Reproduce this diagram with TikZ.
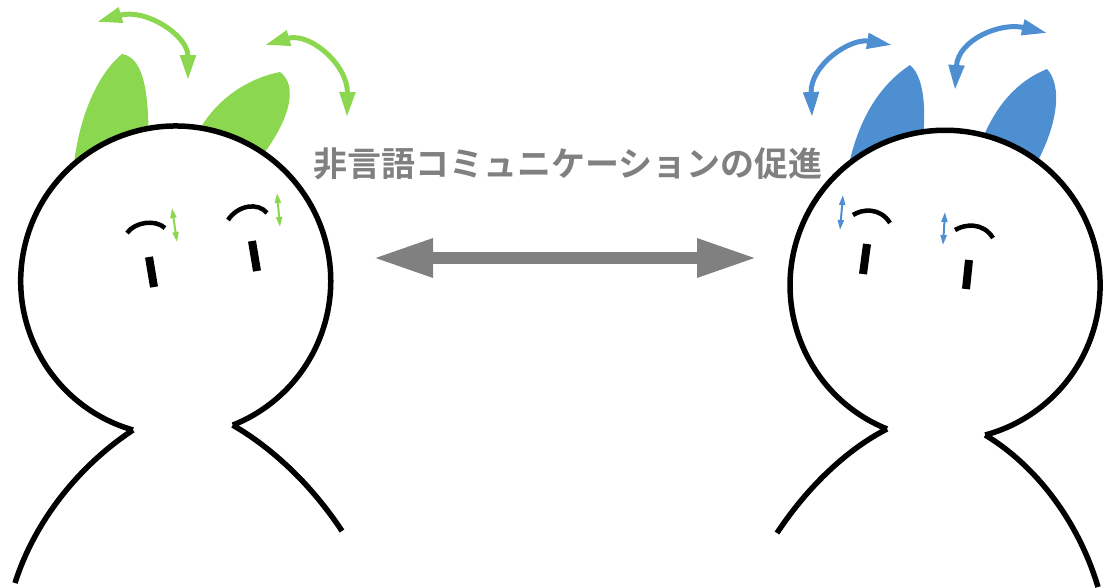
\documentclass[tikz,border=0pt]{standalone}
\usepackage{fontspec}
\newfontfamily\cjkbold[BoldFont={Noto Sans CJK JP Bold}]{Noto Sans CJK JP}
\usetikzlibrary{arrows.meta}
\definecolor{eargreen}{RGB}{140,215,80}
\definecolor{earblue}{RGB}{78,143,210}
\definecolor{labelgray}{RGB}{128,128,128}
\tikzset{
  outline/.style={line width=5.5pt, black},
  earshape/.style={draw=none},
  swing/.style={line width=5pt, {Triangle[length=25pt,width=15pt]}-{Triangle[length=25pt,width=15pt]}},
  twitch/.style={line width=2pt, {Triangle[length=10pt,width=6pt]}-{Triangle[length=10pt,width=6pt]}},
  brow/.style={line width=4.5pt, black},
  eyeline/.style={line width=8pt, black},
}
\begin{document}
\begin{tikzpicture}[x=1pt,y=-1pt]
\path[use as bounding box] (0,0) rectangle (1106,587);

% ---------- left figure (green) ----------
\fill[eargreen] (72,185) .. controls (76,115) and (100,72) .. (122,54)
  .. controls (145,58) and (152,95) .. (147,185) -- cycle;
\fill[eargreen] (190,150) .. controls (205,108) and (240,80) .. (280,72)
  .. controls (298,85) and (292,120) .. (255,165) -- cycle;
\draw[outline, fill=white] (133,430) arc[start angle=106, end angle=428.4, radius=155];
\coordinate (lneckL) at (133,430);
\coordinate (lneckR) at (232.7,425.1);
\draw[outline] (lneckL) .. controls (80,465) and (35,520) .. (15,583);
\draw[outline] (lneckR) .. controls (262,442) and (305,475) .. (342,531);
\draw[swing, eargreen] (97,22) .. controls (145,8) and (188,35) .. (188,80);
\draw[swing, eargreen] (265,45) .. controls (310,32) and (348,65) .. (347,117);
\draw[brow] (127,233) .. controls (135,222) and (155,219) .. (165,228);
\draw[brow] (228,220) .. controls (238,205) and (258,202) .. (267,213);
\draw[eyeline] (149,257) -- (154,287);
\draw[eyeline] (252,241) -- (257,271);
\draw[twitch, eargreen] (172,208) -- (177,242);
\draw[twitch, eargreen] (277,193) -- (280,227);

% ---------- right figure (blue) ----------
\fill[earblue] (845,185) .. controls (855,120) and (880,85) .. (910,65)
  .. controls (928,80) and (928,130) .. (915,185) -- cycle;
\fill[earblue] (975,160) .. controls (990,110) and (1015,82) .. (1047,69)
  .. controls (1062,85) and (1060,125) .. (1030,175) -- cycle;
\draw[outline, fill=white] (887,429) arc[start angle=112, end angle=435, radius=155];
\coordinate (rneckL) at (887,429);
\coordinate (rneckR) at (985.2,435);
\draw[outline] (rneckL) .. controls (857,444) and (814,477) .. (777,533);
\draw[outline] (rneckR) .. controls (1035,465) and (1078,520) .. (1098,587);
\draw[swing, earblue] (812,117) .. controls (810,65) and (850,38) .. (892,45);
\draw[swing, earblue] (955,90) .. controls (958,40) and (1000,22) .. (1047,33);
\draw[brow] (853,215) .. controls (862,209) and (880,207) .. (890,223);
\draw[brow] (955,230) .. controls (965,224) and (983,222) .. (993,238);
\draw[eyeline] (867,244) -- (863,274);
\draw[eyeline] (969,260) -- (966,289);
\draw[twitch, earblue] (843,195) -- (840,230);
\draw[twitch, earblue] (945,212) -- (943,245);

% ---------- exchange between the two ----------
\node[anchor=base, text=labelgray, inner sep=0pt, font=\cjkbold\bfseries\fontsize{34pt}{40pt}\selectfont]
  (label) at (568,176) {非言語コミュニケーションの促進};
\coordinate (leftend) at (373,258);
\coordinate (rightend) at (757,258);
\draw[labelgray, line width=12pt, {Triangle[length=60pt,width=36pt]}-{Triangle[length=60pt,width=36pt]}]
  (leftend) -- (rightend);
\end{tikzpicture}
\end{document}
